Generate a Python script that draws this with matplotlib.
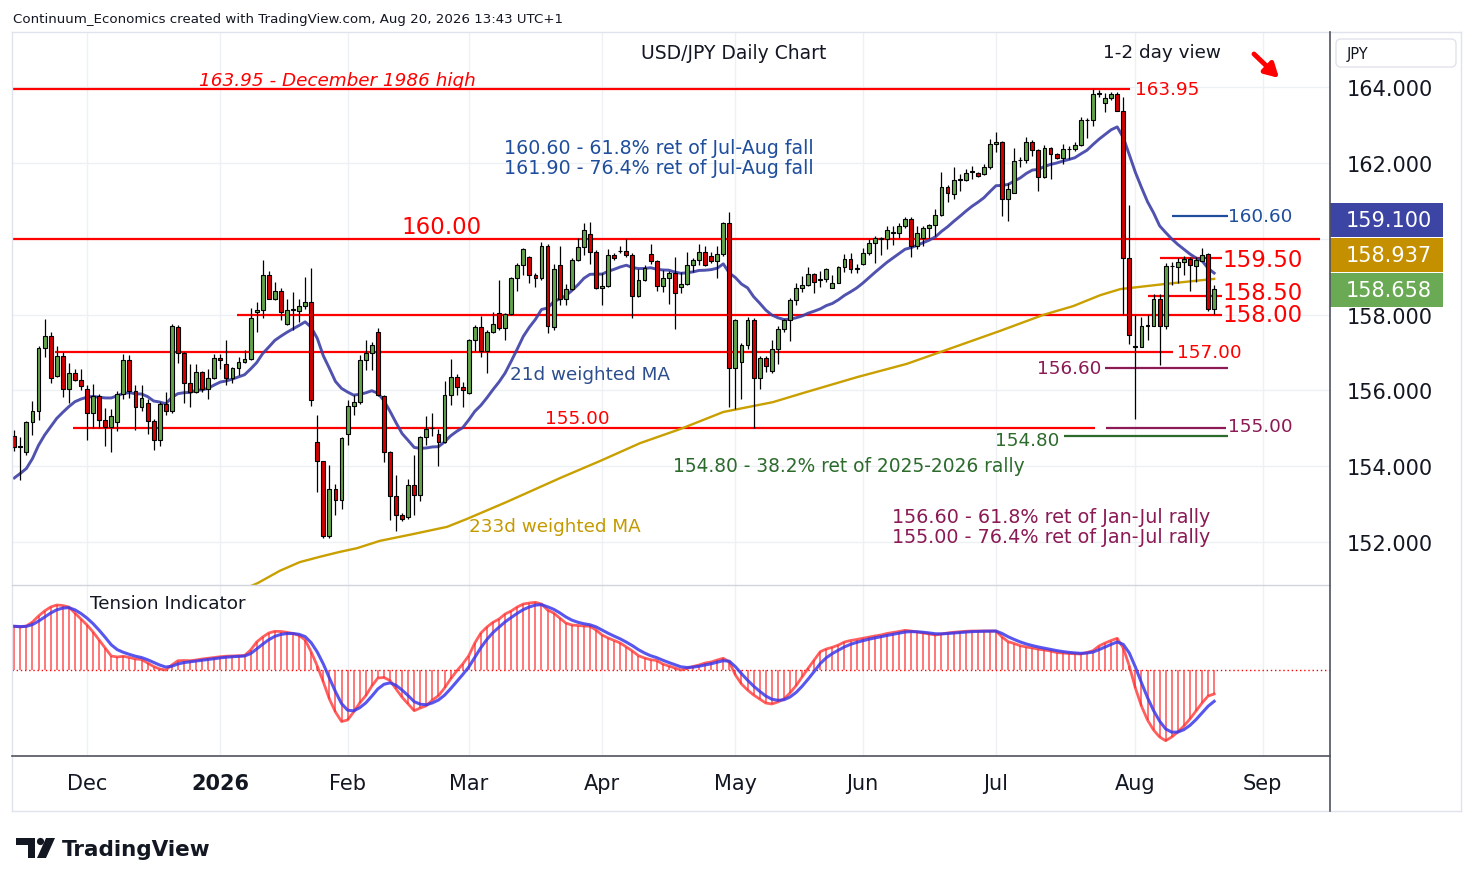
import numpy as np
import matplotlib
matplotlib.use('Agg')
import matplotlib.pyplot as plt
import matplotlib.transforms as mtransforms
from matplotlib.patches import Rectangle, Polygon, Circle, FancyBboxPatch
from matplotlib.lines import Line2D

plt.rcParams['font.family'] = ['DejaVu Sans']

# ---------------- data ----------------
month_ticks = [12, 34, 55, 75, 97, 119, 140, 162, 185, 206]
month_labels = ['Dec', '2026', 'Feb', 'Mar', 'Apr', 'May', 'Jun', 'Jul', 'Aug', 'Sep']

opens = [
 154.80,154.51,154.37,155.17,155.46,157.12,157.43,156.38,156.91,156.03,
 156.46,156.27,156.03,155.41,155.85,155.23,155.03,155.17,155.90,156.80,
 155.99,155.56,155.67,155.19,154.69,155.65,155.46,157.67,156.99,156.20,
 155.96,156.48,156.04,156.33,156.85,156.69,156.33,156.59,156.75,156.82,
 158.07,158.13,159.05,158.42,158.62,157.76,158.13,158.08,158.22,158.33,
 154.64,154.13,152.16,153.39,153.10,154.86,155.59,155.69,156.80,156.99,
 157.54,155.85,154.37,153.21,152.72,152.66,153.51,153.23,154.77,155.00,
 154.85,154.64,155.89,156.35,156.09,155.94,157.32,157.67,157.03,157.54,
 158.04,157.64,158.02,158.95,159.31,159.52,159.05,158.96,159.81,157.67,
 159.30,158.42,158.68,159.45,159.78,160.13,159.65,158.70,158.75,159.58,
 159.67,159.67,159.58,158.50,158.91,159.60,159.40,158.75,158.95,159.10,
 158.73,158.81,159.31,159.45,159.65,159.54,159.40,159.60,160.42,156.59,
 156.75,157.20,157.85,156.33,156.85,156.50,157.10,157.63,157.85,158.37,
 158.70,158.79,159.08,158.90,158.93,158.71,158.84,159.26,159.47,159.21,
 159.32,159.63,159.88,160.00,160.00,160.16,160.14,160.33,160.51,159.82,
 160.03,160.29,160.35,160.62,161.35,161.17,161.55,161.54,161.76,161.74,
 161.70,161.90,162.49,162.55,161.05,161.21,162.07,162.07,162.55,162.34,
 161.63,162.40,162.22,162.14,162.36,162.37,162.46,163.13,163.13,163.82,
 163.59,163.71,163.82,163.38,159.49,157.15,157.14,157.71,157.71,158.42,
 157.70,159.28,159.25,159.38,159.47,159.28,159.40,159.60,158.15]

closes = [
 154.51,154.51,155.17,155.46,157.12,157.43,156.33,156.91,156.03,156.46,
 156.27,156.11,155.41,155.85,155.23,155.03,155.32,155.90,156.80,155.99,
 155.56,155.80,155.19,154.69,155.65,155.46,157.70,156.99,156.20,155.96,
 156.48,156.04,156.33,156.85,156.80,156.33,156.59,156.75,156.82,157.91,
 158.13,159.05,158.42,158.62,158.07,158.13,158.13,158.22,158.33,155.74,
 154.13,152.16,153.39,153.10,154.74,155.59,155.69,156.80,156.99,157.19,
 155.87,154.37,153.21,152.72,152.62,153.51,153.23,154.77,154.99,155.02,
 154.64,155.89,156.35,156.09,156.00,157.32,157.67,157.03,157.54,157.76,
 157.64,158.02,158.95,159.31,159.72,159.05,158.96,159.81,157.70,159.21,
 158.42,158.68,159.45,159.78,160.22,159.65,158.70,158.75,159.58,159.49,
 159.67,159.58,158.50,158.91,159.23,159.40,158.75,158.95,159.10,158.58,
 158.81,159.31,159.45,159.65,159.30,159.40,159.60,160.42,156.59,157.85,
 157.20,157.85,156.33,156.85,156.64,157.10,157.63,157.85,158.37,158.70,
 158.79,159.08,158.87,158.93,159.19,158.84,159.26,159.47,159.21,159.23,
 159.63,159.88,160.03,160.03,160.23,160.16,160.33,160.51,159.82,160.16,
 160.29,160.35,160.62,161.35,161.21,161.54,161.55,161.74,161.76,161.65,
 161.90,162.49,162.55,161.05,161.30,162.05,162.07,162.55,162.34,161.63,
 162.40,162.22,162.14,162.36,162.36,162.46,163.13,163.13,163.81,163.82,
 163.71,163.82,163.38,159.49,157.45,157.16,157.71,157.71,158.42,157.71,
 159.28,159.28,159.38,159.47,159.31,159.43,159.58,158.15,158.66]

highs = [
 154.95,154.77,155.20,155.72,157.16,157.89,157.54,157.17,157.01,156.73,
 156.57,156.57,156.15,156.18,155.91,155.53,155.52,155.97,156.97,156.94,
 156.15,156.13,155.78,155.25,155.70,155.96,157.76,157.72,157.00,156.70,
 156.70,156.50,156.57,156.97,156.97,157.32,156.62,156.88,157.07,158.17,
 158.33,159.45,159.16,158.86,158.70,158.42,158.59,158.42,159.00,159.23,
 155.34,154.15,154.02,153.54,154.77,155.74,155.87,156.92,157.32,157.27,
 157.64,155.87,154.40,153.76,152.76,153.67,154.30,154.80,155.32,155.40,
 154.99,156.26,156.82,156.44,156.22,157.36,157.73,157.96,157.58,158.06,
 158.90,158.05,159.00,159.35,159.76,159.55,159.10,159.90,159.86,159.34,
 159.82,158.81,159.50,160.02,160.42,160.44,159.70,159.10,159.74,159.62,
 159.82,159.98,159.62,159.21,159.30,159.87,159.45,159.17,159.14,159.52,
 159.12,159.65,159.50,159.87,159.82,159.65,159.82,160.45,160.70,157.88,
 157.25,157.93,157.90,156.90,156.90,157.32,157.71,157.88,158.44,158.84,
 159.02,159.25,159.10,159.14,159.23,159.03,159.28,159.59,159.63,159.32,
 159.76,159.98,160.07,160.05,160.33,160.33,160.42,160.58,160.58,160.33,
 160.33,160.40,160.77,161.76,161.41,161.90,161.70,161.85,161.92,161.76,
 161.96,162.64,162.81,162.57,161.48,162.40,162.16,162.69,162.60,162.36,
 162.46,162.42,162.25,162.49,162.44,162.55,163.22,163.19,163.96,163.91,
 163.85,163.87,163.87,163.74,160.88,157.98,157.93,157.98,158.55,158.55,
 159.37,159.38,159.49,159.54,159.52,159.52,159.75,159.63,158.79]

lows = [
 154.40,153.63,154.30,154.81,155.21,156.88,156.20,156.35,155.82,155.67,
 156.25,156.00,154.68,155.01,155.01,154.53,154.37,154.92,155.78,155.80,
 154.95,155.46,154.86,154.42,154.53,155.34,155.40,156.73,155.67,155.56,
 155.94,155.96,155.78,156.30,156.57,156.15,156.20,156.40,156.72,156.80,
 157.54,157.91,158.40,158.38,157.85,157.73,157.58,157.80,158.15,155.60,
 153.32,152.11,152.10,152.70,152.88,154.55,155.34,155.65,156.53,156.53,
 155.85,154.11,152.57,152.28,152.55,152.60,152.70,153.07,154.55,154.80,
 154.01,154.60,155.62,155.87,155.56,155.90,157.05,156.88,156.46,157.50,
 157.60,157.32,157.98,158.61,159.05,158.84,158.73,158.92,157.52,157.60,
 158.26,158.26,158.65,159.42,159.56,159.34,158.66,158.26,158.72,159.45,
 159.62,159.52,157.91,158.45,158.88,159.34,158.61,158.59,158.29,157.63,
 158.58,158.78,159.12,159.31,159.27,159.37,158.96,159.55,155.56,155.52,
 155.78,157.10,155.00,156.03,156.48,156.45,156.70,157.55,157.29,158.26,
 158.59,158.75,158.58,158.72,158.87,158.70,158.82,159.12,159.10,159.09,
 159.30,159.56,159.37,159.56,159.72,159.83,160.03,160.29,159.53,159.74,
 159.81,160.03,160.07,160.60,160.97,161.04,161.26,161.52,161.57,161.63,
 161.67,161.85,162.29,160.60,160.47,161.20,161.90,162.00,162.18,161.26,
 161.61,161.58,162.09,161.96,162.09,162.31,162.44,162.66,162.97,163.74,
 163.34,163.65,163.36,157.98,157.23,155.25,157.14,157.32,157.71,156.66,
 157.61,158.77,158.84,159.05,158.61,158.86,159.40,158.08,158.02]

# 21d weighted MA for the first 20 bars (earlier history not shown)
wma21_early = [153.69,153.81,153.94,154.20,154.55,154.82,155.04,155.26,155.42,155.57,
               155.70,155.77,155.82,155.84,155.82,155.80,155.80,155.86,155.92,155.94]

# 233d weighted MA (bar index, value)
ma233_bar = [38.5, 40.2, 43.8, 47.1, 50.4, 53.7, 56.6, 60.3, 65.8, 71.4, 74.7, 81.3, 90.1,
             96.7, 103.3, 109.9, 117.0, 125.2, 130.8, 139.1, 147.3, 152.8, 162.7, 169.8,
             174.7, 179.2, 182.5, 189.6, 198.0]
ma233_val = [150.80, 150.92, 151.24, 151.47, 151.61, 151.74, 151.84, 152.03, 152.21, 152.40,
             152.61, 153.06, 153.69, 154.14, 154.61, 154.98, 155.43, 155.69, 155.96, 156.35,
             156.70, 157.01, 157.57, 157.99, 158.22, 158.51, 158.67, 158.80, 158.94]

tension = [
 43.7,43,44,48,54,59,63,65,64.5,63,
 57,51,45,38,30,22,14,13,13.7,12.5,
 11,10.5,7,3.5,1,0,5,9.3,9.5,9.3,
 10,11,11.7,12.5,13.3,13.8,14,14.2,14.5,20,
 28,33,37,38.7,38.5,37.7,36.5,34.5,30,18,
 4,-12,-29,-42,-51.5,-50,-42,-33,-25.7,-16,
 -8,-7.5,-10.5,-19,-27.3,-34,-40.7,-38,-35.7,-30,
 -25.7,-18,-9,-1,6,14.3,27,37,43,47.7,
 51,56,59,63,66,67,67.7,66,60,57,
 52,47,45,44.5,44,43.7,40,35,32,29.5,
 27,23,19,14.3,12,10.3,9.5,6,4,2,
 0,1.5,3.5,5,7,8,10,11.7,8,-5,
 -14,-20,-25,-29,-33,-34,-32,-29,-23,-15.7,
 -7,1.7,10,18.3,21,22.7,25,28,29.5,30.5,
 31.7,33,34,35,36.5,37.5,38.5,39.7,39,38,
 37,36,35,36,37,37.7,38.2,38.7,39,39,
 39,39,39,33,28.3,26.5,24.3,23,22,20.8,
 20,19,17.5,17,16.5,16.2,16,17.5,19.3,24,
 27,29.5,31.7,22,4,-18,-36,-50,-60,-67,
 -70.7,-67,-62,-56,-49,-41,-33,-26,-24]

tag_values = [159.100, 158.937, 158.658]
tag_colors = ['#3c44a4', '#c49000', '#6aaa55']

# ---------------- derived indicators ----------------
op = np.array(opens); hi = np.array(highs); lo = np.array(lows); cl = np.array(closes)
n = len(cl)
idx = np.arange(n)
w = np.arange(1, 22)
wma21 = np.array(wma21_early + [np.dot(cl[i-20:i+1], w) / w.sum() for i in range(20, n)])
tens = np.array(tension, dtype=float)
sig = np.zeros(n)
sig[0] = tens[0]
for i in range(1, n):
    sig[i] = sig[i-1] + 0.4 * (tens[i] - sig[i-1])

# ---------------- figure / layout ----------------
W, H = 1474, 887
fig = plt.figure(figsize=(W/100, H/100), dpi=100)
fig.patch.set_facecolor('white')
T_px = mtransforms.Affine2D().scale(1.0/W, -1.0/H).translate(0, 1) + fig.transFigure

def XI(px):  # pixel x -> bar index
    return 12 + (px - 87) / 6.06

def YP(py):  # pixel y -> price
    return 164 - (py - 88) / 37.92

L, R, TOP, MID, BOT = 12, 1330, 34, 586, 757
ax = fig.add_axes([L/W, 1-MID/H, (R-L)/W, (MID-TOP)/H])
ax2 = fig.add_axes([L/W, 1-BOT/H, (R-L)/W, (BOT-MID)/H])
for a in (ax, ax2):
    a.set_xlim(XI(L), XI(R))
    for s in a.spines.values():
        s.set_visible(False)
    a.set_facecolor('none')
ax.set_ylim(YP(MID), YP(TOP))
ax2.set_ylim(-86, 85)

grid_c = '#edf0f4'
for p in range(152, 166, 2):
    ax.axhline(p, color=grid_c, lw=1, zorder=0)
for t in month_ticks:
    ax.axvline(t, color=grid_c, lw=1, zorder=0)
    ax2.axvline(t, color=grid_c, lw=1, zorder=0)

# right price axis
ax.yaxis.tick_right()
yt = [152, 154, 156, 158, 162, 164]
ax.set_yticks(yt)
ax.set_yticklabels([f'{v:.3f}' for v in yt])
ax.tick_params(axis='y', length=0, pad=12, labelsize=15, labelcolor='#131722')
ax.set_xticks([])

ax2.set_yticks([])
ax2.set_xticks(month_ticks)
ax2.set_xticklabels(month_labels)
ax2.tick_params(axis='x', length=0, pad=12, labelsize=15, labelcolor='#131722')
ax2.get_xticklabels()[1].set_fontweight('bold')

# ---------------- horizontal levels ----------------
RED = '#ff0000'
PURP = '#8b1a55'
BLUE_T = '#1f4e9c'
GREEN_T = '#2c6b2c'
lev = [
    (163.95, XI(12), XI(1130), RED, 1.6),
    (160.00, XI(12), XI(1320), RED, 1.6),
    (160.60, XI(1172), XI(1228), BLUE_T, 1.6),
    (159.50, XI(1160), XI(1222), RED, 1.6),
    (158.50, XI(1148), XI(1222), RED, 1.6),
    (158.00, XI(237), XI(1222), RED, 1.6),
    (157.00, XI(55), XI(1173), RED, 1.6),
    (156.60, XI(1105), XI(1228), PURP, 1.6),
    (155.00, XI(73), XI(1095), RED, 1.6),
    (155.00, XI(1106), XI(1226), PURP, 1.6),
    (154.80, XI(1064), XI(1228), GREEN_T, 1.6),
]
for y, x0, x1, c, lw in lev:
    ax.plot([x0, x1], [y, y], color=c, lw=lw, zorder=2, solid_capstyle='butt')

# ---------------- moving averages ----------------
ax.plot(ma233_bar, ma233_val, color='#c9a000', lw=1.7, zorder=2.5)
ax.plot(idx, wma21, color='#3d3fa6', lw=2.1, alpha=0.9, zorder=2.5)

# ---------------- candles ----------------
ax.vlines(idx, lo, hi, color='black', lw=0.9, zorder=3)
body_lo = np.minimum(op, cl)
body_h = np.maximum(np.abs(cl - op), 0.012)
cols = np.where(cl >= op, '#62a34b', '#d40000')
ax.bar(idx, body_h, bottom=body_lo, width=0.64, color=cols, edgecolor='black',
       linewidth=0.8, zorder=4)

# ---------------- level labels ----------------
def lbl(px, py, s, c, size, ha='left', **kw):
    ax.text(XI(px), YP(py), s, color=c, fontsize=size, ha=ha, va='center', zorder=6,
            clip_on=False, **kw)

lbl(1135, 90, '163.95', RED, 13.2)
lbl(442, 227, '160.00', RED, 16.5, ha='center')
lbl(1228, 217, '160.60', BLUE_T, 13.2)
lbl(1222, 260, '159.50', RED, 16.5)
lbl(1222, 293, '158.50', RED, 16.5)
lbl(1222, 315, '158.00', RED, 16.5)
lbl(1177, 353, '157.00', RED, 13.2)
lbl(1037, 369, '156.60', PURP, 13.2)
lbl(577, 419, '155.00', RED, 13.2, ha='center')
lbl(1228, 427, '155.00', PURP, 13.2)
lbl(995, 441, '154.80', GREEN_T, 13.2)

lbl(504, 148, '160.60 - 61.8% ret of Jul-Aug fall', BLUE_T, 13.7)
lbl(504, 168, '161.90 - 76.4% ret of Jul-Aug fall', BLUE_T, 13.7)
lbl(337, 81, '163.95 - December 1986 high', RED, 13.2, ha='center', style='italic')
lbl(510, 375, '21d weighted MA', '#2d4e8e', 13.2)
lbl(469, 527, '233d weighted MA', '#c49a00', 13.2)
lbl(673, 466, '154.80 - 38.2% ret of 2025-2026 rally', GREEN_T, 13.4)
lbl(892, 517, '156.60 - 61.8% ret of Jan-Jul rally', PURP, 13.8)
lbl(892, 537, '155.00 - 76.4% ret of Jan-Jul rally', PURP, 13.8)
lbl(734, 53, 'USD/JPY Daily Chart', '#131722', 13.5, ha='center')
lbl(1162, 53, '1-2 day view', '#131722', 13.2, ha='center')

ax.annotate('', xy=(XI(1279), YP(79)), xytext=(XI(1254), YP(55)),
            arrowprops=dict(arrowstyle='-|>,head_length=0.8,head_width=0.45',
                            color=RED, lw=3.5, shrinkA=0, shrinkB=0), zorder=6)

# ---------------- price tags ----------------
blend = mtransforms.blended_transform_factory(ax.transAxes, ax.transData)
tag_h = 34 / 37.92
tag_w = 113 / (R - L)
centers = [tag_values[2] + 2 * 35 / 37.92, tag_values[2] + 35 / 37.92, tag_values[2]]
for v, c, yc in zip(tag_values, tag_colors, centers):
    ax.add_patch(Rectangle((1.0, yc - tag_h/2), tag_w, tag_h, transform=blend,
                           facecolor=c, edgecolor='none', clip_on=False, zorder=7))
    ax.text(1.0 + tag_w/2 + 0.002, yc, f'{v:.3f}', transform=blend, color='white',
            fontsize=15, ha='center', va='center', zorder=8, clip_on=False)

# ---------------- tension indicator ----------------
ax2.axhline(0, color='#ff0000', lw=1.0, ls=(0, (1, 2)), zorder=1)
ax2.vlines(idx, 0, tens, color='#ff3535', lw=1.1, alpha=0.85, zorder=2)
ax2.plot(idx, tens, color='#ff2a2a', lw=2.0, alpha=0.75, zorder=3)
ax2.plot(idx, sig, color='#3a3aee', lw=2.2, alpha=0.85, zorder=4)
ax2.text(XI(90), 671 - 604, 'Tension Indicator', fontsize=13.2, color='#131722',
         ha='left', va='center', zorder=6)

# ---------------- frame & decorations ----------------
def fline(x0, y0, x1, y1, c, lw=1.0):
    fig.add_artist(Line2D([x0, x1], [y0, y1], transform=T_px, color=c, lw=lw))

frame = '#e0e3eb'
fline(12, 33, 1461, 33, frame)
fline(12, 812, 1461, 812, frame)
fline(12, 33, 12, 812, frame)
fline(1461, 33, 1461, 812, frame)
fline(12, 586, 1330, 586, '#d1d4dc')
fline(12, 757, 1330, 757, '#50535e', 1.2)
fline(1330, 33, 1330, 812, '#50535e', 1.2)

fig.add_artist(FancyBboxPatch((1336, 40), 120, 28, transform=T_px,
                              boxstyle='round,pad=0,rounding_size=5',
                              facecolor='white', edgecolor='#e0e3eb', lw=1))
fig.text(1347/W, 1-54/H, 'JPY', fontsize=10.5, color='#131722', ha='left', va='center')

fig.text(13/W, 1-19/H, 'Continuum_Economics created with TradingView.com, Aug 20, 2026 13:43 UTC+1',
         fontsize=9.6, color='#131722', ha='left', va='center')

# TradingView logo
fig.add_artist(Polygon([(16, 839), (35, 839), (35, 859), (28, 859), (28, 846), (16, 846)],
                       closed=True, transform=T_px, facecolor='#131722', edgecolor='none'))
fig.add_artist(Circle((40.5, 842.5), 3.6, transform=T_px, facecolor='#131722', edgecolor='none'))
fig.add_artist(Polygon([(46, 839), (55, 839), (46, 859), (37, 859)],
                       closed=True, transform=T_px, facecolor='#131722', edgecolor='none'))
fig.text(62/W, 1-850/H, 'TradingView', fontsize=15.5, fontweight='bold', color='#131722',
         ha='left', va='center')

fig.savefig('out.png', dpi=100, facecolor='white')
